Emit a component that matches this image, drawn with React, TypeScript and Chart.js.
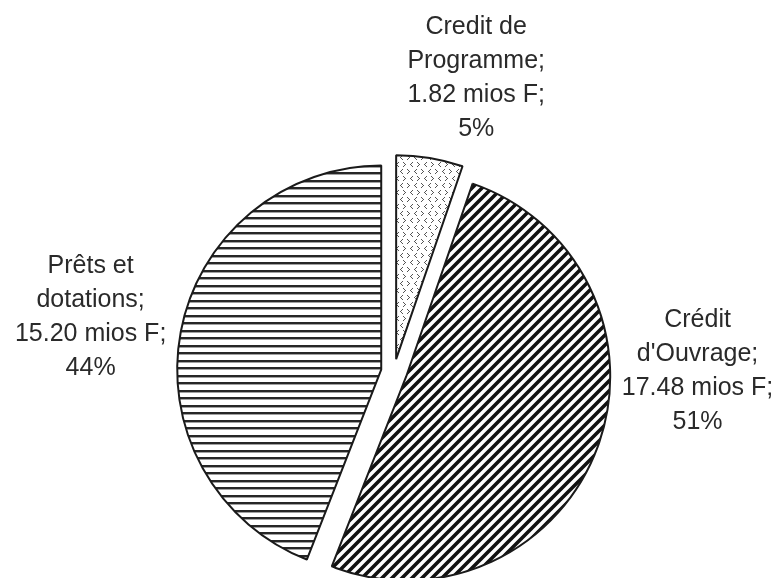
import React, { useEffect, useRef } from "react";
import { Chart, registerables } from "chart.js";

Chart.register(...registerables);

// ---- data ----
const categories = ["Credit de Programme", "Crédit d'Ouvrage", "Prêts et dotations"];
const nameLines = [
  ["Credit de", "Programme;"],
  ["Crédit", "d'Ouvrage;"],
  ["Prêts et", "dotations;"],
];
const amounts = [1.82, 17.48, 15.2];
const unit = "mios F";

// ---- layout / style (not data) ----
const PIE_RADIUS = 204;
const EXPLODE_PX = 13;
const labelAngleDeg = [15.5, 89.4, 280.6]; // clockwise from 12 o'clock
const labelDistFactor = [1.508, 1.488, 1.513];
const LINE_H = 34;
const FONT = '25px "Liberation Sans", Arial, sans-serif';

function makeDotsPattern(): CanvasPattern | string {
  const c = document.createElement("canvas");
  c.width = 14;
  c.height = 14;
  const g = c.getContext("2d");
  if (!g) return "#fff";
  g.fillStyle = "#ffffff";
  g.fillRect(0, 0, 14, 14);
  g.fillStyle = "#555555";
  const gt = (x: number, y: number) => {
    g.fillRect(x, y, 1, 1);
    g.fillRect(x + 1, y + 1, 1, 1);
    g.fillRect(x + 2, y + 2, 1, 1);
    g.fillRect(x + 1, y + 3, 1, 1);
    g.fillRect(x, y + 4, 1, 1);
  };
  const lt = (x: number, y: number) => {
    g.fillRect(x + 2, y, 1, 1);
    g.fillRect(x + 1, y + 1, 1, 1);
    g.fillRect(x, y + 2, 1, 1);
    g.fillRect(x + 1, y + 3, 1, 1);
    g.fillRect(x + 2, y + 4, 1, 1);
  };
  gt(1, 1);
  lt(8, 1);
  lt(4, 8);
  gt(11, 8);
  return g.createPattern(c, "repeat") || "#fff";
}

function makeDiagPattern(): CanvasPattern | string {
  const s = 10;
  const c = document.createElement("canvas");
  c.width = s;
  c.height = s;
  const g = c.getContext("2d");
  if (!g) return "#000";
  g.fillStyle = "#ffffff";
  g.fillRect(0, 0, s, s);
  g.strokeStyle = "#111111";
  g.lineWidth = 3.6;
  g.beginPath();
  g.moveTo(-2, s + 2);
  g.lineTo(s + 2, -2);
  g.moveTo(-2, 2);
  g.lineTo(2, -2);
  g.moveTo(s - 2, s + 2);
  g.lineTo(s + 2, s - 2);
  g.stroke();
  return g.createPattern(c, "repeat") || "#000";
}

function makeHorizPattern(): CanvasPattern | string {
  const c = document.createElement("canvas");
  c.width = 15;
  c.height = 15;
  const g = c.getContext("2d");
  if (!g) return "#000";
  g.fillStyle = "#ffffff";
  g.fillRect(0, 0, 15, 15);
  g.fillStyle = "#262626";
  g.fillRect(0, 0, 15, 2);
  g.fillRect(0, 7, 15, 2);
  g.fillStyle = "#a0a0a0";
  g.fillRect(0, 2, 15, 1);
  g.fillRect(0, 9, 15, 1);
  return g.createPattern(c, "repeat") || "#000";
}

const explodePlugin = {
  id: "explodeSlices",
  afterDatasetsUpdate(chart: any) {
    const meta = chart.getDatasetMeta(0);
    meta.data.forEach((arc: any) => {
      const mid = (arc.startAngle + arc.endAngle) / 2;
      arc.x += Math.cos(mid) * EXPLODE_PX;
      arc.y += Math.sin(mid) * EXPLODE_PX;
    });
  },
};

const labelPlugin = {
  id: "sliceLabels",
  afterDraw(chart: any) {
    const { ctx, chartArea } = chart;
    const cx = (chartArea.left + chartArea.right) / 2;
    const cy = (chartArea.top + chartArea.bottom) / 2;
    const total = amounts.reduce((a, b) => a + b, 0);
    ctx.save();
    ctx.font = FONT;
    ctx.fillStyle = "#2a2a2a";
    ctx.textAlign = "center";
    ctx.textBaseline = "alphabetic";
    amounts.forEach((v, i) => {
      const lines = [
        ...nameLines[i],
        `${v.toFixed(2)} ${unit};`,
        `${Math.round((v / total) * 100)}%`,
      ];
      const a = (labelAngleDeg[i] * Math.PI) / 180;
      const d = labelDistFactor[i] * PIE_RADIUS;
      const lx = cx + Math.sin(a) * d;
      const ly = cy - Math.cos(a) * d;
      const top = ly - ((lines.length - 1) * LINE_H) / 2;
      lines.forEach((t, k) => {
        ctx.fillText(t, lx, top + k * LINE_H + 9);
      });
    });
    ctx.restore();
  },
};

export default function App() {
  const ref = useRef<HTMLCanvasElement | null>(null);

  useEffect(() => {
    if (!ref.current) return;
    const chart = new Chart(ref.current, {
      type: "pie",
      data: {
        labels: categories,
        datasets: [
          {
            data: amounts,
            backgroundColor: [makeDotsPattern(), makeDiagPattern(), makeHorizPattern()] as any,
            borderColor: "#1a1a1a",
            borderWidth: 2,
            hoverOffset: 0,
          },
        ],
      },
      options: {
        animation: false,
        responsive: false,
        devicePixelRatio: 1,
        events: [],
        radius: PIE_RADIUS,
        layout: { padding: { left: 7, right: 0, top: 166, bottom: 0 } },
        plugins: {
          legend: { display: false },
          tooltip: { enabled: false },
        },
      } as any,
      plugins: [explodePlugin, labelPlugin],
    });
    return () => chart.destroy();
  }, []);

  return (
    <div style={{ position: "absolute", left: 0, top: 0, width: 781, height: 578, background: "#fff" }}>
      <canvas ref={ref} width={781} height={578} style={{ display: "block" }} />
    </div>
  );
}
